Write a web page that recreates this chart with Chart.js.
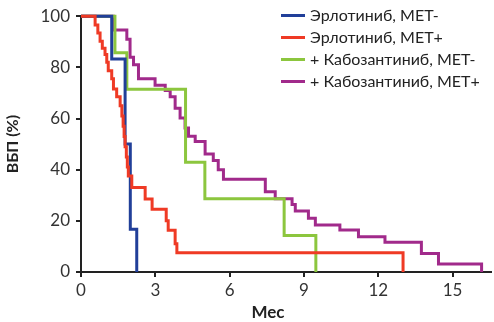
<!DOCTYPE html>
<html lang="ru">
<head>
<meta charset="utf-8">
<script src="https://cdn.jsdelivr.net/npm/chart.js@4"></script>
<style>
    body { margin: 0; background: #fff; font-family: Lato, sans-serif; }
    #wrap { position: relative; width: 494px; height: 322px; }
    #chart { display: block; }
    .legend { position: absolute; left: 281px; top: 4px; }
    .legend div { height: 22px; line-height: 22px; font-size: 16px; color: #222; white-space: nowrap; }
    .legend span { display: inline-block; width: 24px; height: 3px; vertical-align: middle; margin-right: 5px; position: relative; top: -1px; }
    .xtitle { position: absolute; left: 268px; top: 301px; transform: translateX(-50%); font-weight: bold; font-size: 17px; color: #222; }
</style>
</head>
<body>
<div id="wrap">
    <canvas id="chart" width="494" height="322"></canvas>
    <div class="legend" id="legend"></div>
    <div class="xtitle">Мес</div>
</div>
<script>
// ─── Data (months, % progression-free) ───
const seriesNames = ['Эрлотиниб, MET-', 'Эрлотиниб, MET+', '+ Кабозантиниб, MET-', '+ Кабозантиниб, MET+'];
const seriesColors = ['#213f99', '#ef3a25', '#8cc63e', '#a12a8b'];

const erlNegT = [0, 1.24, 1.78, 1.99, 2.25];
const erlNegS = [100, 83.3, 50, 16.7, 0];

const erlPosT = [0, 0.57, 0.68, 0.77, 0.86, 0.97, 1.04, 1.10, 1.24, 1.31, 1.44, 1.58, 1.65, 1.70, 1.74, 1.78, 1.83, 1.87, 1.91, 2.05, 2.59, 2.87, 3.44, 3.52, 3.80, 3.87, 13.0];
const erlPosS = [100, 96.6, 93.4, 90.2, 87.5, 85, 82, 78.7, 75.5, 71.5, 68.5, 65, 61, 57, 53, 49, 45, 41, 37.5, 33, 28.5, 24.5, 20, 16.3, 11, 7.5, 0];

const cabNegT = [0, 1.37, 1.85, 4.22, 5.0, 8.2, 9.48];
const cabNegS = [100, 85.7, 71.4, 42.9, 28.6, 14.3, 0];

const cabPosT = [0, 1.31, 1.85, 1.98, 2.12, 2.32, 2.99, 3.40, 3.60, 3.80, 4.00, 4.20, 4.34, 4.61, 5.01, 5.34, 5.54, 5.75, 7.44, 7.84, 8.52, 8.65, 9.18, 9.46, 10.45, 11.2, 12.27, 13.74, 14.43, 16.17];
const cabPosS = [100, 94.6, 91, 84, 81, 75.5, 73, 71, 68.5, 64, 60.2, 56.3, 53.1, 51, 46.1, 43.6, 40, 36.3, 31.4, 28.6, 26.4, 23.8, 21, 18.4, 16.4, 13.8, 11.6, 7.2, 3.1, 0];

const xTicks = [0, 3, 6, 9, 12, 15];
const yTicks = [0, 20, 40, 60, 80, 100];

const allT = [erlNegT, erlPosT, cabNegT, cabPosT];
const allS = [erlNegS, erlPosS, cabNegS, cabPosS];
const drawOrder = [2, 1, 3, 4];

// ─── Chart ───
const datasets = seriesNames.map((name, i) => ({
    label: name,
    data: allT[i].map((t, k) => ({ x: t, y: allS[i][k] })),
    borderColor: seriesColors[i],
    backgroundColor: seriesColors[i],
    borderWidth: 3,
    pointRadius: 0,
    stepped: 'before',
    clip: false,
    order: drawOrder[i]
}));

const tickFont = { family: 'Lato, sans-serif', size: 17 };

new Chart(document.getElementById('chart'), {
    type: 'line',
    data: { datasets },
    options: {
        responsive: false,
        animation: false,
        layout: { padding: { top: 11, right: 3, left: 0, bottom: 0 } },
        plugins: { legend: { display: false }, tooltip: { enabled: false } },
        scales: {
            x: {
                type: 'linear',
                min: 0,
                max: 16.55,
                afterBuildTicks: s => { s.ticks = xTicks.map(v => ({ value: v })); },
                afterFit: s => { s.height = 50; },
                ticks: { color: '#333', font: tickFont, padding: 3, maxRotation: 0 },
                grid: { drawOnChartArea: false, drawTicks: true, tickLength: 5, color: '#222', lineWidth: 2 },
                border: { color: '#222', width: 2 }
            },
            y: {
                min: 0,
                max: 100,
                afterBuildTicks: s => { s.ticks = yTicks.map(v => ({ value: v })); },
                afterFit: s => { s.width = 81; },
                ticks: { color: '#333', font: tickFont, padding: 6 },
                grid: { drawOnChartArea: false, drawTicks: true, tickLength: 5, color: '#222', lineWidth: 2 },
                border: { color: '#222', width: 2 },
                title: {
                    display: true,
                    text: 'ВБП (%)',
                    color: '#222',
                    font: { family: 'Lato, sans-serif', size: 16, weight: 'bold' },
                    padding: { top: 3, bottom: 0 }
                }
            }
        }
    }
});

// ─── Legend ───
document.getElementById('legend').innerHTML = seriesNames
    .map((n, i) => `<div><span style="background:${seriesColors[i]}"></span>${n}</div>`)
    .join('');
</script>
</body>
</html>
